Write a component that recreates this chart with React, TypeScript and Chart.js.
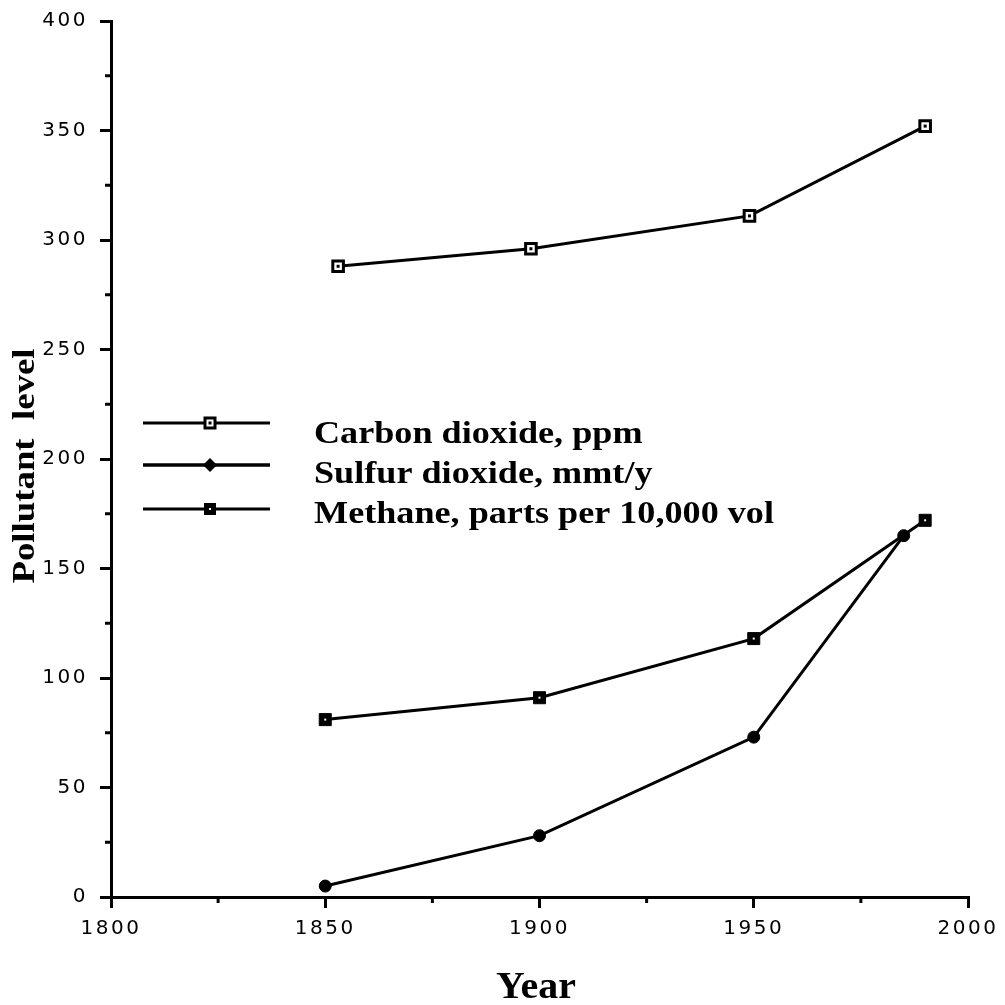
import React, { useEffect, useRef } from "react";
import { Chart, registerables } from "chart.js";

Chart.register(...registerables);

const co2Years = [1853, 1898, 1949, 1990];
const co2Values = [288, 296, 311, 352];
const so2Years = [1850, 1900, 1950, 1985];
const so2Values = [5, 28, 73, 165];
const ch4Years = [1850, 1900, 1950, 1990];
const ch4Values = [81, 91, 118, 172];

const seriesLabels = [
  "Carbon dioxide, ppm",
  "Sulfur dioxide, mmt/y",
  "Methane, parts per 10,000 vol",
];
const xTitle = "Year";
const yTitle = "Pollutant  level";
const xMinorTicks = [1825, 1875, 1925, 1975];
const yMinorTicks = [25, 75, 125, 175, 225, 275, 325, 375];

const toXY = (xs: number[], ys: number[]) => xs.map((x, i) => ({ x, y: ys[i] }));

const SERIF = '"Liberation Serif", "Times New Roman", serif';
const SANS = '"DejaVu Sans", Arial, sans-serif';

function drawMarker(ctx: CanvasRenderingContext2D, kind: number, x: number, y: number) {
  ctx.save();
  ctx.lineWidth = 3;
  ctx.strokeStyle = "#000";
  if (kind === 0) {
    ctx.fillStyle = "#fff";
    ctx.fillRect(x - 5, y - 5, 10, 10);
    ctx.strokeRect(x - 5, y - 5, 10, 10);
    ctx.fillStyle = "#000";
    ctx.fillRect(x - 1.5, y - 1.5, 3, 3);
  } else if (kind === 1) {
    ctx.fillStyle = "#000";
    ctx.beginPath();
    ctx.moveTo(x, y - 7);
    ctx.lineTo(x + 7, y);
    ctx.lineTo(x, y + 7);
    ctx.lineTo(x - 7, y);
    ctx.closePath();
    ctx.fill();
  } else {
    ctx.fillStyle = "#000";
    ctx.fillRect(x - 6, y - 6, 12, 12);
    ctx.fillStyle = "#fff";
    ctx.fillRect(x - 1, y - 1, 2, 2);
  }
  ctx.restore();
}

const decorPlugin = {
  id: "decor",
  beforeDraw(chart: any) {
    const ctx = chart.ctx;
    ctx.fillStyle = "#fff";
    ctx.fillRect(0, 0, chart.width, chart.height);
    (ctx as any).letterSpacing = "2.5px";
  },
  beforeDatasetsDraw(chart: any) {
    (chart.ctx as any).letterSpacing = "0px";
  },
  afterDatasetsDraw(chart: any) {
    const ctx = chart.ctx;
    [0, 2].forEach((di) => {
      const meta = chart.getDatasetMeta(di);
      meta.data.forEach((pt: any) => {
        ctx.fillStyle = di === 0 ? "#000" : "#fff";
        if (di === 0) ctx.fillRect(pt.x - 1.5, pt.y - 1.5, 3, 3);
        else ctx.fillRect(pt.x - 1, pt.y - 1, 2, 2);
      });
    });
  },
  afterDraw(chart: any) {
    const ctx = chart.ctx;
    const xs = chart.scales.x;
    const ys = chart.scales.y;
    (ctx as any).letterSpacing = "0px";
    ctx.save();
    ctx.strokeStyle = "#000";
    ctx.lineWidth = 3;
    xMinorTicks.forEach((v) => {
      const px = xs.getPixelForValue(v);
      ctx.beginPath();
      ctx.moveTo(px, ys.bottom);
      ctx.lineTo(px, ys.bottom + 6);
      ctx.stroke();
    });
    yMinorTicks.forEach((v) => {
      const py = ys.getPixelForValue(v);
      ctx.beginPath();
      ctx.moveTo(xs.left, py);
      ctx.lineTo(xs.left - 6, py);
      ctx.stroke();
    });
    const rowsLine = [423, 465, 509];
    const rowsText = [443, 483, 523];
    rowsLine.forEach((ly, i) => {
      ctx.lineWidth = i === 1 ? 3.5 : 3;
      ctx.beginPath();
      ctx.moveTo(143, ly);
      ctx.lineTo(270, ly);
      ctx.stroke();
      drawMarker(ctx, i, 210, ly);
    });
    ctx.fillStyle = "#000";
    ctx.font = `bold 32px ${SERIF}`;
    ctx.textAlign = "left";
    ctx.textBaseline = "alphabetic";
    rowsText.forEach((ty, i) => {
      ctx.save();
      ctx.translate(314, ty);
      ctx.scale(1.13, 1);
      ctx.fillText(seriesLabels[i], 0, 0);
      ctx.restore();
    });
    ctx.save();
    ctx.translate(34, 466);
    ctx.rotate(-Math.PI / 2);
    ctx.scale(1.15, 1);
    ctx.font = `bold 32px ${SERIF}`;
    ctx.textAlign = "center";
    ctx.fillText(yTitle, 0, 0);
    ctx.restore();
    ctx.font = `bold 38px ${SERIF}`;
    ctx.textAlign = "center";
    ctx.save();
    ctx.translate(536, 998);
    ctx.scale(1.05, 1);
    ctx.fillText(xTitle, 0, 0);
    ctx.restore();
    ctx.restore();
  },
};

export default function App() {
  const ref = useRef<HTMLCanvasElement>(null);
  useEffect(() => {
    if (!ref.current) return;
    const tickColor = (c: any) =>
      c.tick && c.tick.value % 50 === 0 ? "#000" : "rgba(0,0,0,0)";
    const chart = new Chart(ref.current, {
      type: "line",
      data: {
        datasets: [
          {
            label: seriesLabels[0],
            data: toXY(co2Years, co2Values),
            borderColor: "#000",
            borderWidth: 3,
            pointStyle: "rect",
            pointRadius: 7.5,
            pointBorderWidth: 3,
            pointBackgroundColor: "#fff",
            pointBorderColor: "#000",
          },
          {
            label: seriesLabels[1],
            data: toXY(so2Years, so2Values),
            borderColor: "#000",
            borderWidth: 3,
            pointStyle: "circle",
            pointRadius: 6,
            pointBorderWidth: 1,
            pointBackgroundColor: "#000",
            pointBorderColor: "#000",
          },
          {
            label: seriesLabels[2],
            data: toXY(ch4Years, ch4Values),
            borderColor: "#000",
            borderWidth: 3,
            pointStyle: "rect",
            pointRadius: 8.5,
            pointBorderWidth: 1,
            pointBackgroundColor: "#000",
            pointBorderColor: "#000",
          },
        ],
      },
      options: {
        responsive: false,
        animation: false,
        layout: { padding: { top: 21, right: 37, left: 0, bottom: 0 } },
        plugins: { legend: { display: false }, tooltip: { enabled: false } },
        scales: {
          x: {
            type: "linear",
            min: 1800,
            max: 2000,
            afterFit: (s: any) => {
              s.height = 108;
            },
            ticks: {
              stepSize: 25,
              color: "#000",
              font: { family: SANS, size: 20 },
              padding: 9,
              maxRotation: 0,
              autoSkip: false,
              callback: (v: any) => (Number(v) % 50 === 0 ? String(v) : ""),
            },
            grid: {
              drawOnChartArea: false,
              drawTicks: true,
              tickLength: 11,
              lineWidth: 3,
              color: tickColor,
            },
            border: { display: true, color: "#000", width: 3 },
          },
          y: {
            type: "linear",
            min: 0,
            max: 400,
            afterFit: (s: any) => {
              s.width = 111;
              s.paddingTop = 0;
              s.paddingBottom = 0;
            },
            ticks: {
              stepSize: 25,
              color: "#000",
              font: { family: SANS, size: 20 },
              padding: 12,
              autoSkip: false,
              callback: (v: any) => (Number(v) % 50 === 0 ? String(v) : ""),
            },
            grid: {
              drawOnChartArea: false,
              drawTicks: true,
              tickLength: 11,
              lineWidth: 3,
              color: tickColor,
            },
            border: { display: true, color: "#000", width: 3 },
          },
        },
      },
      plugins: [decorPlugin],
    } as any);
    return () => chart.destroy();
  }, []);
  return (
    <div style={{ position: "absolute", left: 0, top: 0, width: 1005, height: 1005 }}>
      <canvas ref={ref} width={1005} height={1005} style={{ display: "block" }} />
    </div>
  );
}
